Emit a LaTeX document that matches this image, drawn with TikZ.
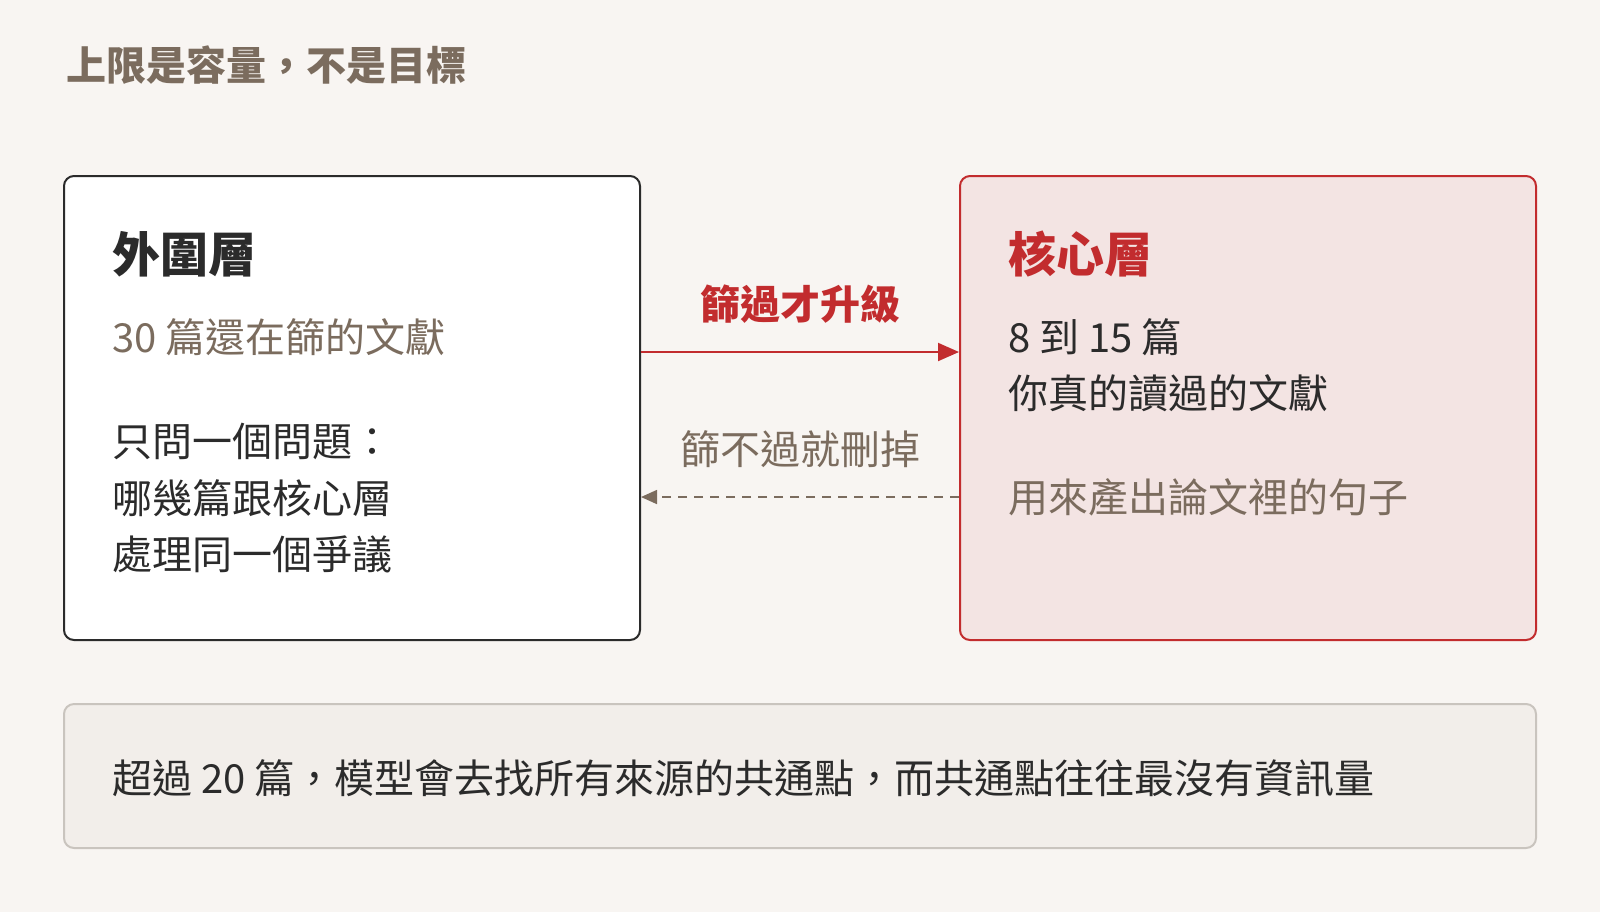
\documentclass[tikz,border=0pt]{standalone}
\usepackage{fontspec}
\setmainfont{Noto Sans CJK TC}
\usetikzlibrary{arrows.meta}
\definecolor{bgc}{RGB}{248,245,242}
\definecolor{inkc}{RGB}{43,43,43}
\definecolor{brownc}{RGB}{123,108,94}
\definecolor{redc}{RGB}{194,44,46}
\definecolor{corefill}{RGB}{243,228,227}
\definecolor{notefill}{RGB}{242,238,234}
\definecolor{noteline}{RGB}{201,196,190}

\begin{document}
\begin{tikzpicture}[x=0.5pt, y=-0.5pt,
		box/.style={draw, line width=1pt, rounded corners=5pt, inner sep=0pt},
		txt/.style={anchor=west, inner sep=0pt, font=\fontsize{20pt}{24pt}\selectfont, text=inkc},
		head/.style={txt, font=\fontsize{24pt}{28pt}\selectfont\bfseries}]
		\fill[bgc] (0,0) rectangle (1600,912);
		
		\node[txt, text=brownc, font=\fontsize{20pt}{24pt}\selectfont\bfseries] (title) at (66,65) {上限是容量，不是目標};
		
		\node[box, draw=inkc, fill=white, minimum width=288pt, minimum height=232pt] (outer) at (352,408) {};
		\node[box, draw=redc, fill=corefill, minimum width=288pt, minimum height=232pt] (core) at (1248,408) {};
		\node[box, draw=noteline, fill=notefill, minimum width=736pt, minimum height=72pt] (note) at (800,776) {};
		
		\node[head] (outerhead) at (112,254) {外圍層};
		\node[txt, text=brownc] (outer1) at (112,337) {30 篇還在篩的文獻};
		\node[txt] (outer2) at (112,441) {只問一個問題：};
		\node[txt] (outer3) at (112,498) {哪幾篇跟核心層};
		\node[txt] (outer4) at (112,554) {處理同一個爭議};
		
		\node[head, text=redc] (corehead) at (1008,254) {核心層};
		\node[txt] (core1) at (1008,337) {8 到 15 篇};
		\node[txt] (core2) at (1008,393) {你真的讀過的文獻};
		\node[txt, text=brownc] (core3) at (1008,497) {用來產出論文裡的句子};
		
		\node[txt] (note1) at (112,778) {超過 20 篇，模型會去找所有來源的共通點，而共通點往往最沒有資訊量};
		
		\draw[-{Triangle[length=10.5pt, width=9pt]}, color=redc, line width=1pt] ([yshift=28pt]outer.east) -- ([yshift=28pt]core.west) node[midway, yshift=24pt, font=\fontsize{20pt}{24pt}\selectfont\bfseries, text=redc] (uplabel) {篩過才升級};
		\draw[-{Triangle[length=8pt, width=7pt]}, color=brownc, line width=0.8pt, dash pattern=on 4.5pt off 3.5pt] ([yshift=-44.5pt]core.west) -- ([yshift=-44.5pt]outer.east) node[midway, yshift=24pt, font=\fontsize{20pt}{24pt}\selectfont, text=brownc] (downlabel) {篩不過就刪掉};
		
		\end{tikzpicture}
\end{document}
